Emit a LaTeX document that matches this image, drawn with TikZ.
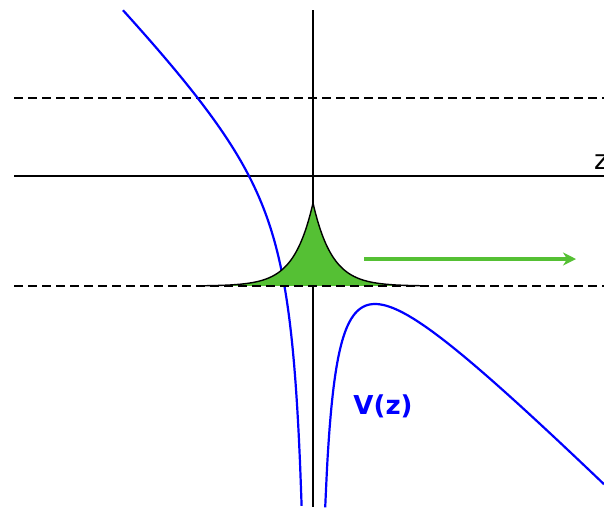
\documentclass[tikz,border=0pt]{standalone}
\usepackage{fontspec}
\setsansfont{DejaVu Sans}
\usetikzlibrary{arrows.meta}
\definecolor{potcol}{HTML}{0000FF}
\definecolor{wavecol}{HTML}{55C034}
\definecolor{axiscol}{HTML}{000000}

\begin{document}
\begin{tikzpicture}[
    x=1pt, y=-1pt,
    >=Stealth,
    axis/.style={draw=axiscol, line width=1.9pt},
    level/.style={draw=axiscol, line width=1.9pt, dash pattern=on 9pt off 5pt},
    pot/.style={draw=potcol, line width=2.2pt},
    packet/.style={draw=axiscol, line width=1.4pt},
    flow/.style={->, draw=wavecol, line width=3.2pt, arrows={-Stealth[length=13pt, width=13pt]}},
    lbl/.style={font=\sffamily, inner sep=0pt},
]
\useasboundingbox (0, 0) rectangle (604, 507);

% ============================================================
%  Axes and levels
% ============================================================
\coordinate (ztop) at (313, 10);
\coordinate (zbot) at (313, 507);
\coordinate (zleft) at (14, 176);
\coordinate (zright) at (604, 176);
\coordinate (upleft) at (14, 98);
\coordinate (upright) at (604, 98);
\coordinate (lowleft) at (14, 286);
\coordinate (lowright) at (604, 286);

\draw[axis] (ztop) -- (zbot);
\draw[axis] (zleft) -- (zright);
\draw[level] (upleft) -- (upright);

\node[lbl, font=\sffamily\fontsize{27}{27}\selectfont, anchor=south west] (zlabel) at (594, 170) {z};

% ============================================================
%  Potential V(z)
% ============================================================
\draw[pot] plot[domain=190:11.4, samples=120, smooth] ({313-\x}, {180 + 3844/\x - \x});
\draw[pot] plot[domain=12.2:291, samples=140, smooth] ({313+\x}, {180 + 3844/\x + \x});

\node[lbl, text=potcol, font=\sffamily\bfseries\fontsize{26}{26}\selectfont] (vlabel) at (383, 406) {V(z)};

% ============================================================
%  Wave packet
% ============================================================
\fill[wavecol] plot[domain=-113:113, samples=151] ({313+\x}, {286 - 83*exp(-abs(\x)/19)}) -- cycle;
\draw[packet] plot[domain=-113:0, samples=80] ({313+\x}, {286 - 83*exp(\x/19)});
\draw[packet] plot[domain=0:113, samples=80] ({313+\x}, {286 - 83*exp(-\x/19)});

\draw[level] (lowleft) -- (lowright);

% --- motion arrow ---
\coordinate (flowstart) at (364, 259);
\coordinate (flowend) at (576, 259);
\draw[flow] (flowstart) -- (flowend);

\end{tikzpicture}
\end{document}
